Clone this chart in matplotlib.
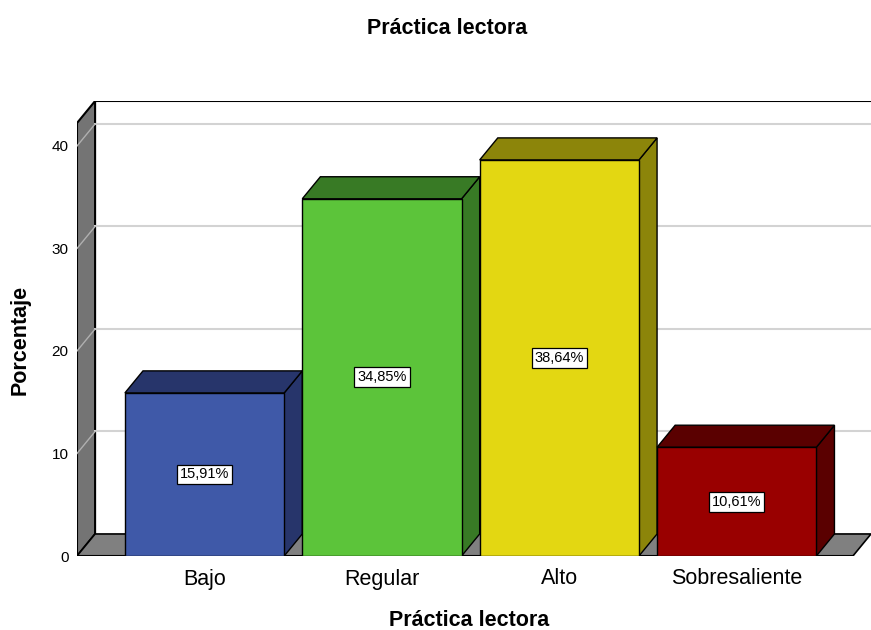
import numpy as np
import matplotlib
matplotlib.use('Agg')
import matplotlib.pyplot as plt
from matplotlib.patches import Polygon

plt.rcParams['font.family'] = ['Liberation Sans', 'DejaVu Sans']

# datos del gráfico
categorias = ['Bajo', 'Regular', 'Alto', 'Sobresaliente']
porcentajes = [15.91, 34.85, 38.64, 10.61]
etiquetas = ['15,91%', '34,85%', '38,64%', '10,61%']
marcas_y = [0, 10, 20, 30, 40]

colores_frente = ['#3F59A8', '#5CC43A', '#E3D712', '#990000']
colores_lado = ['#27356B', '#387A25', '#8C850A', '#5A0000']

# geometría 3D (unidades de datos)
ancho = 0.898
dx = 0.102
dy = 2.15
x_izq = -0.719
x_der = 3.757
x_suelo = 3.655
y_techo = 42.24


def cara(ax, puntos, color, z):
    ax.add_patch(Polygon(puntos, closed=True, facecolor=color,
                         edgecolor='black', linewidth=1.0, zorder=z))


fig = plt.figure(figsize=(8.71, 6.30), dpi=100)
ax = fig.add_axes([77 / 871, 74 / 630, (871 - 77) / 871, 455 / 630])
ax.set_xlim(x_izq, x_der)
ax.set_ylim(0, y_techo + dy)
for s in ax.spines.values():
    s.set_visible(False)

# pared izquierda
ax.add_patch(Polygon([(x_izq, 0), (x_izq, y_techo), (x_izq + dx, y_techo + dy),
                      (x_izq + dx, dy)], closed=True, facecolor='#747474',
                     edgecolor='black', linewidth=1.5, zorder=1))
# suelo
ax.add_patch(Polygon([(x_izq, 0), (x_suelo, 0), (x_suelo + dx, dy),
                      (x_izq + dx, dy)], closed=True, facecolor='#808080',
                     edgecolor='black', linewidth=1.2, zorder=1))

# líneas de cuadrícula
for v in marcas_y[1:]:
    ax.plot([x_izq + dx, x_der], [v + dy, v + dy], color='#D3D3D3', lw=1.5, zorder=1.5)
    ax.plot([x_izq, x_izq + dx], [v, v + dy], color='#B0B0B0', lw=1.0, zorder=1.5)

# borde superior de la pared del fondo
ax.plot([x_izq + dx, x_der], [y_techo + dy, y_techo + dy], color='black', lw=1.5, zorder=2)
ax.plot([x_izq, x_suelo], [0, 0], color='black', lw=1.5, zorder=2)

# barras
for i, (v, cf, cl) in enumerate(zip(porcentajes, colores_frente, colores_lado)):
    x0 = i - ancho / 2
    x1 = i + ancho / 2
    z = 3 + i
    cara(ax, [(x1, 0), (x1 + dx, dy), (x1 + dx, v + dy), (x1, v)], cl, z)
    cara(ax, [(x0, v), (x1, v), (x1 + dx, v + dy), (x0 + dx, v + dy)], cl, z)
    cara(ax, [(x0, 0), (x1, 0), (x1, v), (x0, v)], cf, z)
    ax.text(i, v / 2, etiquetas[i], ha='center', va='center', fontsize=10.5,
            zorder=10, bbox=dict(boxstyle='square,pad=0.2', facecolor='white',
                                 edgecolor='black', linewidth=0.9))

ax.set_yticks(marcas_y)
ax.set_yticklabels([str(v) for v in marcas_y], fontsize=11)
ax.tick_params(axis='y', length=0, pad=6)
ax.set_xticks(range(len(categorias)))
ax.set_xticklabels(categorias, fontsize=15.5)
ax.tick_params(axis='x', length=0, pad=9)

fig.text(447 / 871, 1 - 28 / 630, 'Práctica lectora', ha='center', va='center',
         fontsize=15.5, fontweight='bold')
fig.text(469 / 871, 1 - 621 / 630, 'Práctica lectora', ha='center', va='center',
         fontsize=15.5, fontweight='bold')
fig.text(20 / 871, 1 - 340 / 630, 'Porcentaje', ha='center', va='center',
         rotation=90, fontsize=15.5, fontweight='bold')

fig.savefig('out.png', dpi=100)
